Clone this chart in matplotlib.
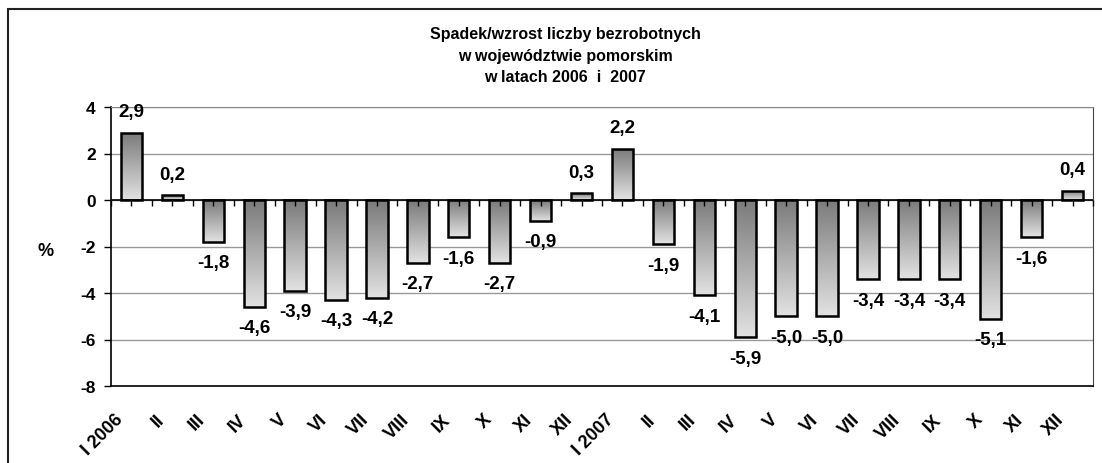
import numpy as np
import matplotlib
matplotlib.use("Agg")
import matplotlib.pyplot as plt
from matplotlib.colors import LinearSegmentedColormap
from matplotlib.patches import Rectangle
from matplotlib.markers import TICKDOWN
from matplotlib.transforms import ScaledTranslation

plt.rcParams['font.family'] = ['Liberation Sans', 'DejaVu Sans']

# monthly change of unemployment, %, Jan 2006 - Dec 2007
months = ["I 2006", "II", "III", "IV", "V", "VI", "VII", "VIII", "IX", "X", "XI", "XII",
          "I 2007", "II", "III", "IV", "V", "VI", "VII", "VIII", "IX", "X", "XI", "XII"]
values = [2.9, 0.2, -1.8, -4.6, -3.9, -4.3, -4.2, -2.7, -1.6, -2.7, -0.9, 0.3,
          2.2, -1.9, -4.1, -5.9, -5.0, -5.0, -3.4, -3.4, -3.4, -5.1, -1.6, 0.4]
y_ticks = [-8, -6, -4, -2, 0, 2, 4]

W, H = 1102, 464
fig = plt.figure(figsize=(W / 100, H / 100), dpi=100)
ax = fig.add_axes([111 / W, 1 - 387 / H, (1093 - 111) / W, (387 - 108) / H])

# outer frame of the chart
fig.patches.append(Rectangle((8 / W, -0.2), 1.2, 1.2 - 10 / H, transform=fig.transFigure,
                             fill=False, edgecolor="#222222", linewidth=1.5, zorder=0))

cmap = LinearSegmentedColormap.from_list("g", ["#7a7a7a", "#e2e2e2"])
grad = np.linspace(0, 1, 256).reshape(-1, 1)
x = np.arange(len(values))
bw = 0.52
bars = ax.bar(x, values, width=bw, facecolor="none", edgecolor="black", linewidth=1.8, zorder=3)
for b in bars:
    x0, y0 = b.get_x(), b.get_y()
    w, h = b.get_width(), b.get_height()
    top, bot = max(y0, y0 + h), min(y0, y0 + h)
    im = ax.imshow(grad, cmap=cmap, aspect="auto", extent=(x0, x0 + w, bot, top),
                   origin="upper", zorder=2)
    im.set_clip_path(b)

for xi, v in zip(x, values):
    lab = f"{v:.1f}".replace(".", ",")
    if v >= 0:
        ax.annotate(lab, (xi, v), xytext=(0, 9), textcoords="offset points",
                    ha="center", va="bottom", fontsize=13.5, fontweight="bold")
    else:
        ax.annotate(lab, (xi, v), xytext=(0, -9), textcoords="offset points",
                    ha="center", va="top", fontsize=13.5, fontweight="bold")

ax.set_xlim(-0.5, len(values) - 0.5)
ax.set_ylim(-8, 4)
ax.set_yticks(y_ticks)
ax.set_yticklabels([str(t) for t in y_ticks], fontsize=12.5, fontweight="bold")
ax.tick_params(axis="y", length=5, width=1, pad=6)
ax.yaxis.grid(True, color="#999999", linewidth=1)
ax.set_axisbelow(True)

ax.set_xticks(x)
ax.set_xticklabels(months, rotation=45, ha="right", va="center", rotation_mode="anchor",
                   fontsize=13, fontweight="bold")
ax.tick_params(axis="x", length=0, pad=22)
shift = ScaledTranslation(-11 / 100, 0, fig.dpi_scale_trans)
for t in ax.get_xticklabels():
    t.set_transform(t.get_transform() + shift)

for s in ["left", "bottom"]:
    ax.spines[s].set_color("black")
    ax.spines[s].set_linewidth(1.2)
ax.spines["right"].set_color("#444444")
ax.spines["top"].set_color("#888888")

# zero line with category tick marks
ax.axhline(0, color="black", linewidth=1.2, zorder=4)
cat_edges = np.arange(-0.5, len(values), 0.5)
ax.plot(cat_edges, np.zeros_like(cat_edges), linestyle="none", marker=TICKDOWN,
        markersize=4, markeredgewidth=1, color="black", zorder=4, clip_on=False)

ax.text(-0.067, 0.485, "%", transform=ax.transAxes, ha="center", va="center",
        fontsize=13, fontweight="bold")

fig.text(565 / W, 1 - 35 / H, "Spadek/wzrost liczby bezrobotnych", ha="center", va="center",
         fontsize=11.5, fontweight="bold")
fig.text(565 / W, 1 - 56.5 / H, "w województwie pomorskim", ha="center", va="center",
         fontsize=11.5, fontweight="bold")
fig.text(565 / W, 1 - 78 / H, "w latach 2006  i  2007", ha="center", va="center",
         fontsize=11.5, fontweight="bold")

fig.savefig("out.png", dpi=100)
